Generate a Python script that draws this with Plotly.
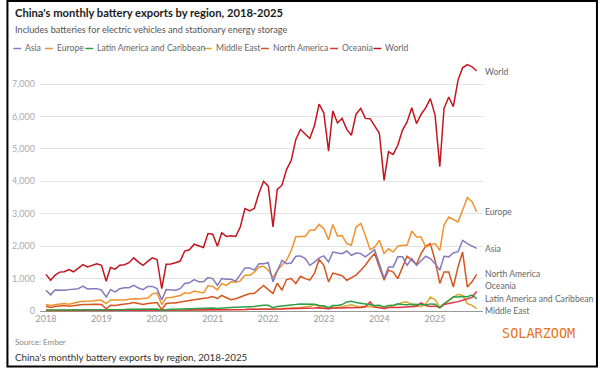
import plotly.graph_objects as go
import pandas as pd

dates = pd.date_range("2018-01-01", "2025-10-01", freq="MS")

world = [1130, 950, 1100, 1200, 1210, 1280, 1210, 1310, 1430, 1360, 1410, 1460,
         1410, 920, 1340, 1290, 1410, 1430, 1490, 1640, 1510, 1410, 1530, 1640,
         1590, 690, 1440, 1450, 1490, 1540, 1850, 1890, 2060, 2020, 1960, 2390,
         2370, 2000, 2410, 2300, 2320, 2300, 2590, 3160, 3090, 3160, 3640, 4000,
         3850, 2590, 3750, 3880, 4360, 4650, 5290, 5600, 5470, 5320, 5730, 6380,
         6110, 4930, 6170, 5800, 5940, 5600, 5420, 6070, 6250, 5940, 5930, 5700,
         5480, 4030, 4910, 4830, 5110, 5580, 5830, 6270, 5780, 6060, 6270, 6550,
         6040, 4450, 6250, 6600, 6300, 7120, 7500, 7600, 7530, 7400]
asia = [640, 500, 650, 640, 640, 660, 680, 690, 770, 680, 690, 690,
        650, 430, 660, 590, 690, 720, 720, 790, 710, 660, 760, 760,
        690, 340, 660, 640, 640, 690, 850, 870, 970, 900, 900, 1030,
        1000, 790, 1000, 980, 980, 920, 1130, 1330, 1330, 1260, 1460, 1460,
        1490, 900, 1230, 1560, 1460, 1480, 1690, 1700, 1620, 1410, 1510, 1640,
        1700, 1510, 1820, 1800, 1770, 1850, 1720, 1790, 1770, 1670, 1790, 1890,
        1450, 1000, 1360, 1360, 1670, 1670, 1410, 1620, 1410, 1560, 1690, 1620,
        1460, 1260, 1690, 1670, 1790, 1830, 2180, 2080, 2000, 1930]
europe = [200, 170, 190, 220, 230, 210, 250, 280, 300, 300, 310, 330,
          330, 230, 340, 340, 330, 340, 360, 380, 370, 380, 400, 530,
          560, 200, 410, 420, 440, 480, 560, 540, 620, 590, 560, 780,
          760, 650, 850, 790, 900, 890, 930, 1100, 1100, 1200, 1360, 1380,
          1260, 1030, 1260, 1410, 1560, 1870, 2290, 2300, 2300, 2490, 2490, 2670,
          2540, 2200, 2670, 2310, 2330, 2080, 2030, 2590, 2700, 2330, 1890, 1970,
          2180, 1770, 1920, 1820, 2000, 2030, 2030, 2470, 2280, 2280, 1970, 2030,
          2080, 1870, 2650, 2900, 2820, 2750, 3110, 3500, 3370, 3060]
latam = [30, 25, 30, 30, 35, 35, 40, 40, 40, 45, 45, 45,
         45, 30, 45, 45, 50, 50, 55, 55, 55, 55, 60, 60,
         60, 25, 50, 55, 55, 60, 70, 75, 80, 80, 85, 95,
         95, 80, 100, 100, 105, 110, 120, 130, 130, 140, 160, 180,
         175, 100, 140, 150, 170, 190, 200, 220, 220, 200, 210, 170,
         160, 100, 170, 170, 200, 280, 300, 260, 230, 200, 190, 170,
         180, 125, 170, 175, 220, 200, 190, 210, 205, 200, 190, 220,
         210, 100, 230, 330, 440, 430, 450, 440, 490, 380]
mideast = [20, 15, 20, 20, 20, 20, 25, 25, 25, 25, 25, 25,
           25, 15, 25, 25, 25, 25, 30, 30, 30, 30, 30, 30,
           30, 10, 25, 25, 25, 30, 30, 30, 35, 35, 35, 40,
           40, 30, 40, 40, 45, 45, 50, 50, 55, 55, 60, 70,
           70, 50, 70, 80, 80, 90, 100, 110, 120, 150, 200, 150,
           130, 80, 120, 110, 130, 170, 190, 150, 140, 130, 140, 120,
           120, 80, 120, 150, 200, 260, 280, 200, 150, 140, 220, 430,
           350, 120, 220, 330, 420, 515, 480, 230, 175, 75]
namerica = [150, 110, 140, 160, 170, 150, 170, 190, 200, 200, 210, 210,
            200, 70, 180, 170, 190, 200, 230, 260, 220, 200, 230, 250,
            260, 40, 230, 250, 250, 280, 310, 330, 350, 370, 380, 410,
            450, 380, 480, 410, 350, 380, 430, 480, 540, 540, 660, 790,
            660, 540, 860, 640, 970, 1000, 850, 1070, 1000, 950, 1170, 1590,
            1410, 900, 1170, 1140, 1090, 950, 1040, 1110, 1260, 1410, 1620, 1770,
            1360, 950, 1260, 1200, 1000, 1360, 1690, 1560, 1440, 1770, 2000, 2080,
            1560, 850, 1200, 1200, 740, 1360, 1820, 740, 900, 1130]
oceania = [20, 15, 20, 20, 20, 20, 20, 20, 25, 25, 25, 25,
           25, 15, 25, 25, 25, 25, 25, 30, 30, 30, 30, 30,
           30, 10, 25, 25, 30, 30, 30, 35, 35, 35, 40, 40,
           40, 30, 40, 40, 45, 45, 50, 50, 55, 55, 60, 60,
           60, 40, 60, 60, 70, 70, 75, 80, 80, 85, 90, 100,
           90, 70, 90, 80, 90, 100, 100, 110, 110, 130, 280, 120,
           110, 80, 110, 100, 110, 120, 130, 140, 150, 250, 170, 140,
           150, 100, 200, 230, 250, 290, 330, 380, 420, 600]

series_names = ["Asia", "Europe", "Latin America and Caribbean", "Middle East",
                "North America", "Oceania", "World"]
series_values = [asia, europe, latam, mideast, namerica, oceania, world]
colors = ["#8479bd", "#f0932e", "#2e9e48", "#d9a82b", "#d4561e", "#e0323f", "#c2161e"]

# layout geometry (pixels)
W, H = 600, 368
L, R, T, B = 34, 483, 60, 312

def px(p):
    return (p - L) / (R - L)

def py(p):
    return (B - p) / (B - T)

fig = go.Figure()
order = [3, 5, 2, 4, 1, 0, 6]
for i in order:
    fig.add_trace(go.Scatter(x=dates, y=series_values[i], mode="lines",
                             name=series_names[i], showlegend=False,
                             line=dict(color=colors[i], width=1.5),
                             hoverinfo="skip"))

FONT = "Lato"
ann = []
shapes = []

ann.append(dict(text="<b>China's monthly battery exports by region, 2018-2025</b>",
                x=px(7), y=py(12), xref="paper", yref="paper", xanchor="left",
                yanchor="middle", showarrow=False,
                font=dict(family=FONT, size=11.2, color="#1a1a1a")))
ann.append(dict(text="Includes batteries for electric vehicles and stationary energy storage",
                x=px(7), y=py(29), xref="paper", yref="paper", xanchor="left",
                yanchor="middle", showarrow=False,
                font=dict(family=FONT, size=9.2, color="#555555")))

# custom legend
leg_x = [7, 39, 80, 200, 258, 328, 372]
for i, name in enumerate(series_names):
    x0 = leg_x[i]
    shapes.append(dict(type="line", xref="paper", yref="paper",
                       x0=px(x0), x1=px(x0 + 8), y0=py(48.5), y1=py(48.5),
                       line=dict(color=colors[i], width=1.5)))
    ann.append(dict(text=name, x=px(x0 + 10), y=py(48.5), xref="paper", yref="paper",
                    xanchor="left", yanchor="middle", showarrow=False,
                    font=dict(family=FONT, size=8.6, color="#666666")))

# end labels
end_labels = [("World", 72, 6), ("Europe", 211.5, 1), ("Asia", 248.5, 0),
              ("North America", 273.5, 4), ("Oceania", 286, 5),
              ("Latin America and Caribbean", 299, 2), ("Middle East", 311, 3)]
for text, ypix, ci in end_labels:
    ann.append(dict(text=text, x=px(483), y=py(ypix), xref="paper", yref="paper",
                    xanchor="left", yanchor="middle", showarrow=False,
                    font=dict(family=FONT, size=8.6, color="#666666")))

ann.append(dict(text="Source: Ember", x=px(7), y=py(341.5), xref="paper", yref="paper",
                xanchor="left", yanchor="middle", showarrow=False,
                font=dict(family=FONT, size=8, color="#888888")))
ann.append(dict(text="China's monthly battery exports by region, 2018-2025",
                x=px(7), y=py(356.5), xref="paper", yref="paper",
                xanchor="left", yanchor="middle", showarrow=False,
                font=dict(family=FONT, size=9.8, color="#333333")))
ann.append(dict(text="SOLARZOOM", x=px(539), y=py(333), xref="paper", yref="paper",
                xanchor="center", yanchor="middle", showarrow=False,
                font=dict(family="DejaVu Sans Mono", size=13.5, color="#e8731a")))

# frame
shapes.append(dict(type="rect", xref="paper", yref="paper",
                   x0=px(1), x1=px(598.5), y0=py(1), y1=py(366.5),
                   line=dict(color="#000000", width=2)))

fig.update_layout(
    width=W, height=H,
    margin=dict(l=L, r=W - R, t=T, b=H - B, pad=0),
    paper_bgcolor="white", plot_bgcolor="white",
    showlegend=False,
    annotations=ann, shapes=shapes,
    xaxis=dict(type="date", range=["2017-11-23", "2025-11-12"],
               dtick="M12", tick0="2018-01-01", tickformat="%Y",
               showgrid=False, zeroline=False, showline=False, ticks="",
               tickfont=dict(family=FONT, size=9, color="#999999")),
    yaxis=dict(range=[-30, 7740], tickvals=[0, 1000, 2000, 3000, 4000, 5000, 6000, 7000],
               ticktext=["0", "1,000", "2,000", "3,000", "4,000", "5,000", "6,000", "7,000"],
               showgrid=True, gridcolor="#e3e3e3", gridwidth=1,
               zeroline=True, zerolinecolor="#999999", zerolinewidth=1,
               showline=False, ticks="", ticklabelstandoff=4,
               tickfont=dict(family=FONT, size=9, color="#aaaaaa")),
)

fig.write_html("out.html", config={"displayModeBar": False},
               post_script="document.body.style.margin='0';document.body.style.padding='0';")
